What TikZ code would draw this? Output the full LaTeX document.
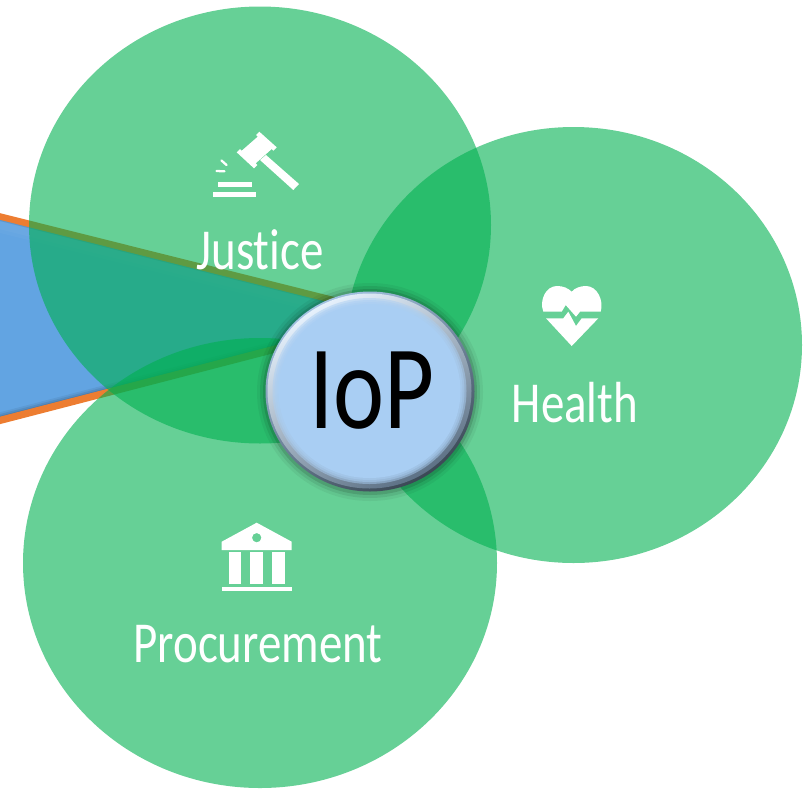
\documentclass[tikz,border=0pt]{standalone}
\usepackage{fontspec}
\setmainfont[FakeStretch=0.81, Ligatures=NoCommon]{Carlito}
\definecolor{discgreen}{HTML}{00B050}
\definecolor{wedgeblue}{HTML}{62A4E2}
\definecolor{wedgeorange}{HTML}{ED7D31}
\definecolor{iopblue}{HTML}{A9CEF3}
\tikzset{
  greendisc/.style={fill=discgreen, fill opacity=0.6},
  iconfill/.style={fill=white},
  sparkline/.style={draw=white, line width=1.3pt, line cap=round},
  circlelabel/.style={text=white, font=\fontsize{33}{33}\selectfont, inner sep=0pt},
}
\begin{document}
\begin{tikzpicture}[x=0.02cm, y=-0.02cm]
\useasboundingbox (0,0) rectangle (811,788);

% Blue wedge with orange edges
\fill[wedgeblue] (-10,214) -- (345,303) -- (345,331) -- (-10,423) -- cycle;
\begin{scope}
\clip (-10,214) -- (345,303) -- (345,331) -- (-10,423) -- cycle;
\draw[black, opacity=0.06, line width=9pt] (-10,423) -- (345,331);
\draw[black, opacity=0.08, line width=7pt] (-10,423) -- (345,331);
\draw[black, opacity=0.10, line width=5pt] (-10,423) -- (345,331);
\draw[white, opacity=0.03, line width=18pt] (-10,214) -- (345,303);
\draw[white, opacity=0.03, line width=14pt] (-10,214) -- (345,303);
\draw[black, opacity=0.10, line width=5pt] (-10,214) -- (345,303);
\end{scope}
\draw[wedgeorange, line width=3.7pt] (-10,214) -- (345,303);
\draw[wedgeorange, line width=4.1pt] (-10,423) -- (345,331);

% The three circles
\fill[greendisc] (260,225) ellipse [x radius=231, y radius=218.5];
\fill[greendisc] (573.5,345) ellipse [x radius=228.5, y radius=218];
\fill[greendisc] (260,563) ellipse [x radius=237, y radius=225];

% Gavel
\fill[iconfill] (236.7,152.3) -- (240,149) -- (241.7,150.7) -- (257.7,136.7) -- (256,135) -- (259.3,131.7)
  -- (276.7,147.3) -- (273.3,150.7) -- (271.7,149) -- (255.7,163.3) -- (257.3,165) -- (254,168.3) -- cycle;
\fill[iconfill] (260,160) -- (293.3,190) -- (299,184) -- (266,155) -- cycle;
\fill[iconfill] (218,182) rectangle (251.7,187.3);
\fill[iconfill] (213.3,191.7) rectangle (256,197);
\draw[sparkline] (216.5,171) -- (224.5,171.3);
\draw[sparkline] (221.5,160.5) -- (226.5,165);

% Heart
\fill[iconfill] (543.3,311.7) .. controls (539,300) and (546,286) .. (557,286)
  .. controls (563,286) and (568,288) .. (571.7,291.7)
  .. controls (575,288) and (580,286) .. (586,286)
  .. controls (597,286) and (604,300) .. (600.7,311.7)
  -- (580,311.7) -- (576,316.7) -- (565.7,305) -- (561.7,311.7) -- cycle;
\fill[iconfill] (546,318.3) -- (563.3,318.3) -- (568.3,311.7) -- (576,326) -- (581.7,318.3)
  -- (598.3,318.3) -- (571.7,346) -- cycle;

% Bank
\fill[iconfill, even odd rule] (256.7,522.7) -- (221.7,541.7) -- (221.7,550) -- (291.7,550) -- (291.7,541.7) -- cycle
  (256.7,537.7) circle [radius=4.7];
\fill[iconfill] (229,552.3) rectangle (241.3,584);
\fill[iconfill] (250.3,552.3) rectangle (262.7,584);
\fill[iconfill] (272.3,552.3) rectangle (284.7,584);
\fill[iconfill] (221.7,587) rectangle (291.7,591);

% Labels
\node[circlelabel] (justice) at (260,250) {Justice};
\node[circlelabel] (health) at (575,403) {Health};
\node[circlelabel] (procurement) at (258,644) {Procurement};

% IoP button
\foreach \grow/\shade in {9/0.05, 6/0.08, 3/0.12}
  \fill[black, opacity=\shade] (370,392) ellipse [x radius=104+\grow, y radius=100+\grow];
\shade[top color=iopblue!85!gray, bottom color=black!65!iopblue, shading angle=30]
  (370,391.5) ellipse [x radius=104.5, y radius=100];
\shade[top color=white!70!iopblue, bottom color=iopblue!55!black, shading angle=30]
  (369.5,391) ellipse [x radius=102, y radius=97.5];
\foreach \shrink in {2, 4, 6}
  \fill[iopblue, opacity=0.5] (369.5,391) ellipse [x radius=99-\shrink, y radius=95-\shrink];
\fill[iopblue] (369.5,391) ellipse [x radius=91, y radius=87];
\node[inner sep=0pt, font=\fontsize{68}{68}\selectfont] (iop) at (372,391) {IoP};
\end{tikzpicture}
\end{document}
